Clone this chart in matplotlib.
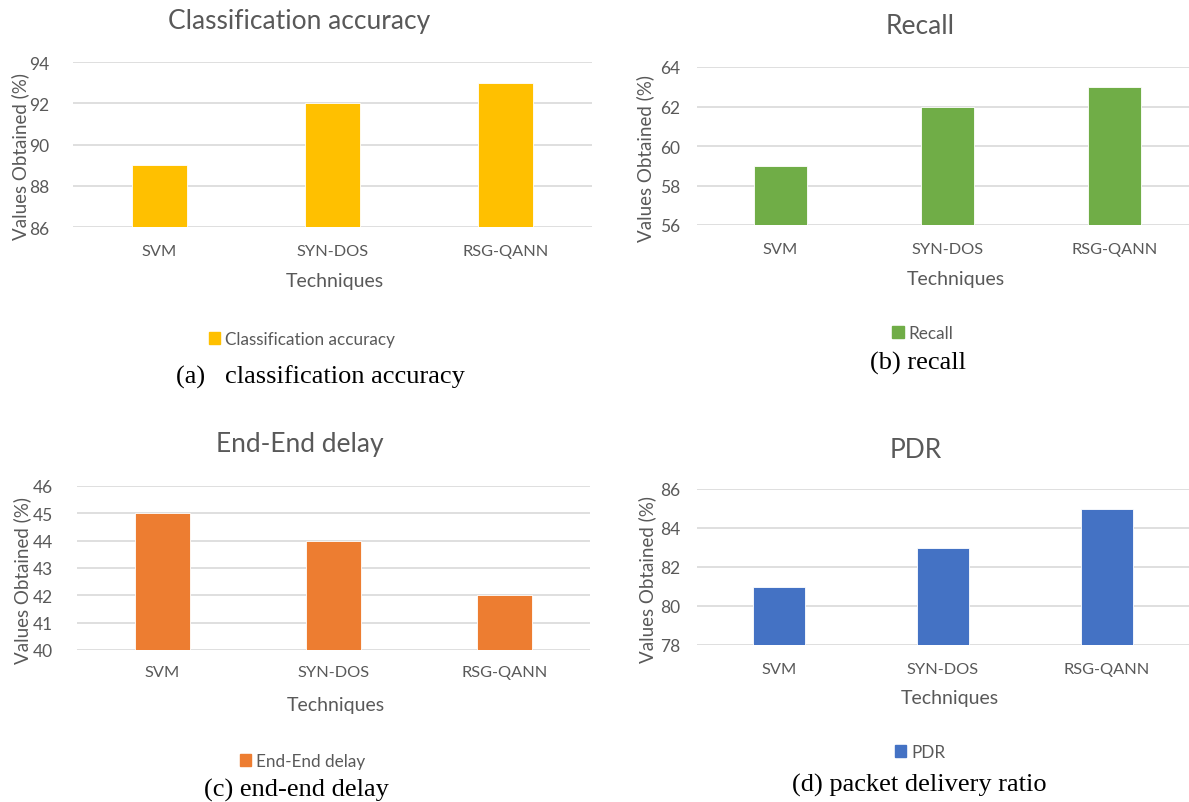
import matplotlib
matplotlib.use("Agg")
import matplotlib.pyplot as plt
from matplotlib.patches import Patch

plt.rcParams['font.family'] = ['Lato', 'DejaVu Sans']

techniques = ['SVM', 'SYN-DOS', 'RSG-QANN']
accuracy = [89, 92, 93]
recall = [59, 62, 63]
delay = [45, 44, 42]
pdr = [81, 83, 85]

W, H = 1189, 803
GRAY = '#595959'
GRID = '#D9D9D9'

fig = plt.figure(figsize=(W / 100, H / 100), dpi=100)


def fx(x):
    return x / W


def fy(y):
    return 1 - y / H


def panel(values, color, name, ylim, ystep, box, pad, title_xy, ylab_xy,
          xlab_xy, leg_xy, caption, cap_xy, xtick_pad):
    l, t, r, b = box
    ax = fig.add_axes([fx(l), fy(b), (r - l) / W, (b - t) / H])
    ax.bar(range(len(techniques)), values, width=0.32, color=color,
           edgecolor='white', linewidth=0.6, zorder=3)
    ax.set_xlim(-0.5, 2.5)
    ax.set_ylim(*ylim)
    ax.set_yticks(range(ylim[0], ylim[1] + 1, ystep))
    ax.set_xticks(range(len(techniques)))
    ax.set_xticklabels(techniques)
    ax.grid(axis='y', color=GRID, linewidth=1.2, zorder=0)
    ax.set_axisbelow(True)
    for s in ax.spines.values():
        s.set_visible(False)
    ax.tick_params(axis='y', length=0, labelsize=12.5, labelcolor=GRAY, pad=pad)
    ax.tick_params(axis='x', length=0, labelsize=11.8, labelcolor=GRAY, pad=xtick_pad)

    fig.text(fx(title_xy[0]), fy(title_xy[1]), name, ha='center', va='center',
             fontsize=19, color=GRAY)
    fig.text(fx(ylab_xy[0]), fy(ylab_xy[1]), 'Values Obtained (%)', rotation=90,
             ha='center', va='center', fontsize=13.5, color=GRAY)
    fig.text(fx(xlab_xy[0]), fy(xlab_xy[1]), 'Techniques', ha='center',
             va='center', fontsize=14, color=GRAY)
    fig.legend(handles=[Patch(color=color, label=name)], loc='center',
               bbox_to_anchor=(fx(leg_xy[0]), fy(leg_xy[1])), frameon=False,
               fontsize=12.3, labelcolor=GRAY, handlelength=0.65,
               handleheight=0.65, handletextpad=0.3)
    fig.text(fx(cap_xy[0]), fy(cap_xy[1]), caption, ha='center', va='center',
             fontsize=19, family='Liberation Serif', color='black')
    return ax


panel(accuracy, '#FFC000', 'Classification accuracy', (86, 94), 2,
      (73, 63, 592, 228), 17, (299, 21), (20, 157), (335, 282), (302, 340),
      '(a)   classification accuracy', (320, 377), 12)
panel(recall, '#70AD47', 'Recall', (56, 64), 2,
      (697, 68, 1198, 226), 12, (920, 27), (645, 158), (956, 280), (923, 334),
      '(b) recall', (918, 363), 12)
panel(delay, '#ED7D31', 'End-End delay', (40, 46), 1,
      (77, 487, 590, 651), 17, (300, 445), (22, 581), (336, 706), (303, 762),
      '(c) end-end delay', (296, 790), 11)
panel(pdr, '#4472C4', 'PDR', (78, 86), 2,
      (697, 490, 1189, 646), 12, (916, 451), (647, 580), (950, 699), (920, 753),
      '(d) packet delivery ratio', (919, 785), 12)

fig.savefig('out.png', dpi=100)
